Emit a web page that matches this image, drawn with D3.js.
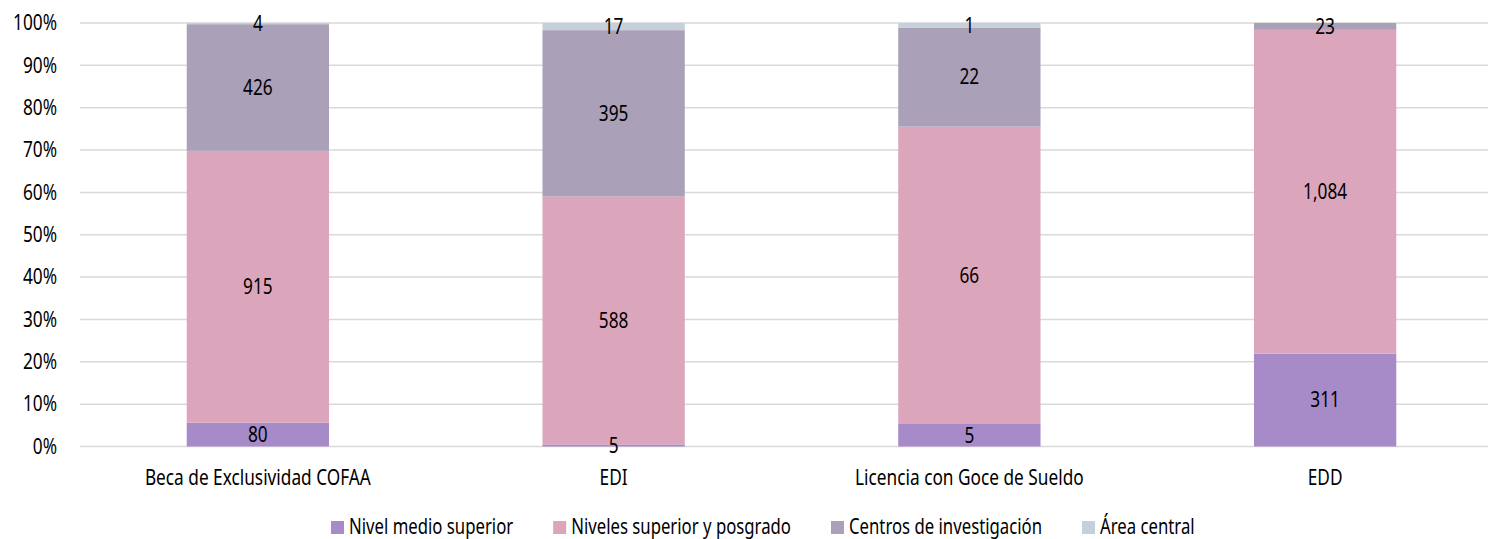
<!DOCTYPE html>
<html>
<head>
<meta charset="utf-8">
<script src="https://cdn.jsdelivr.net/npm/d3@7"></script>
<style>
  body { margin: 0; background: #fff; }
  svg { display: block; }
  text { font-family: "Noto Sans", "DejaVu Sans", sans-serif; font-stretch: condensed; fill: #000; }
</style>
</head>
<body>
<script>
const categories = ["Beca de Exclusividad COFAA", "EDI", "Licencia con Goce de Sueldo", "EDD"];
const seriesNames = ["Nivel medio superior", "Niveles superior y posgrado", "Centros de investigación", "Área central"];
const nivelMedio = [80, 5, 5, 311];
const nivelSuperior = [915, 588, 66, 1084];
const centros = [426, 395, 22, 23];
const areaCentral = [4, 17, 1, 0];
const yTicks = [0, 10, 20, 30, 40, 50, 60, 70, 80, 90, 100];
const colors = ["#a78bc8", "#dba6bc", "#aaa0b8", "#c5d0da"];

const w = 1488;
const h = 539;
const fontSize = 21;

// rows for the stack
const dataset = categories.map((c, i) => ({
  cat: c,
  s0: nivelMedio[i],
  s1: nivelSuperior[i],
  s2: centros[i],
  s3: areaCentral[i],
}));
const keys = ["s0", "s1", "s2", "s3"];

const stacked = d3.stack().keys(keys).offset(d3.stackOffsetExpand)(dataset);

const svg = d3.select("body").append("svg").attr("width", w).attr("height", h);

// the original font is a narrow one, squeeze the fallback to the same width
const probe = svg.append("text").style("font-size", fontSize + "px").text(categories[0]);
const squeeze = Math.min(1, 226 / probe.node().getComputedTextLength());
probe.remove();
const narrow = (sel) =>
  sel.each(function () {
    const len = this.getComputedTextLength();
    d3.select(this).attr("textLength", len * squeeze).attr("lengthAdjust", "spacingAndGlyphs");
  });

const xScale = d3.scaleBand().domain(categories).range([80, 1503]).paddingInner(0.6).paddingOuter(0.3);
const yScale = d3.scaleLinear().domain([0, 1]).range([446.5, 23]);

// gridlines
svg
  .append("g")
  .selectAll("line")
  .data(yTicks)
  .enter()
  .append("line")
  .attr("x1", 80)
  .attr("x2", w)
  .attr("y1", (d) => yScale(d / 100))
  .attr("y2", (d) => yScale(d / 100))
  .style("stroke", "#d9d9d9")
  .style("stroke-width", 1.5);

// y axis labels
const yAxis = d3
  .axisLeft(yScale)
  .tickValues(yTicks.map((d) => d / 100))
  .tickFormat((d) => Math.round(d * 100) + "%")
  .tickSize(0)
  .tickPadding(0);
const yG = svg.append("g").attr("transform", "translate(57,0)").call(yAxis);
yG.select(".domain").remove();
yG.selectAll("text").style("font-size", fontSize + "px").style("font-family", null).call(narrow);

// bars
const layers = svg
  .selectAll("g.layer")
  .data(stacked)
  .enter()
  .append("g")
  .attr("class", "layer")
  .style("fill", (d, i) => colors[i]);

layers
  .selectAll("rect")
  .data((d) => d)
  .enter()
  .append("rect")
  .attr("x", (d) => xScale(d.data.cat))
  .attr("width", xScale.bandwidth())
  .attr("y", (d) => yScale(d[1]))
  .attr("height", (d) => yScale(d[0]) - yScale(d[1]));

// value labels
stacked.forEach((layer) => {
  svg
    .append("g")
    .selectAll("text")
    .data(layer.filter((d) => d.data[layer.key] > 0))
    .enter()
    .append("text")
    .attr("x", (d) => xScale(d.data.cat) + xScale.bandwidth() / 2)
    .attr("y", (d) => (yScale(d[0]) + yScale(d[1])) / 2)
    .attr("dy", "0.35em")
    .attr("text-anchor", "middle")
    .style("font-size", fontSize + "px")
    .text((d) => d3.format(",")(d.data[layer.key]))
    .call(narrow);
});

// x axis labels
const xAxis = d3.axisBottom(xScale).tickSize(0).tickPadding(0);
const xG = svg.append("g").attr("transform", "translate(0,485)").call(xAxis);
xG.select(".domain").remove();
xG.selectAll("text").style("font-size", fontSize + "px").style("font-family", null).attr("dy", 0).call(narrow);

// legend
const legend = svg.append("g").attr("transform", "translate(331,534)");
let lx = 0;
seriesNames.forEach((name, i) => {
  const item = legend.append("g").attr("transform", "translate(" + lx + ",0)");
  item.append("rect").attr("x", 0).attr("y", -13).attr("width", 13).attr("height", 13).style("fill", colors[i]);
  const t = item
    .append("text")
    .attr("x", 18)
    .attr("y", 0)
    .style("font-size", fontSize + "px")
    .text(name);
  const len = t.node().getComputedTextLength() * squeeze * 0.97;
  t.attr("textLength", len).attr("lengthAdjust", "spacingAndGlyphs");
  lx += 18 + len + 40;
});
</script>
</body>
</html>
